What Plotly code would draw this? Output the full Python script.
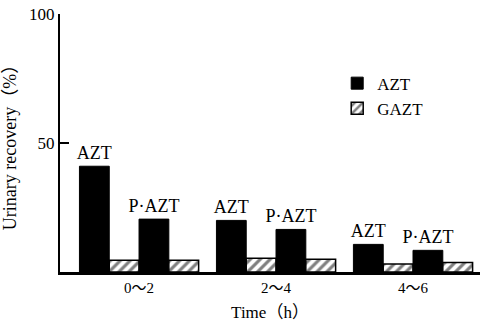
import plotly.graph_objects as go

groups = ["0～2", "2～4", "4～6"]
azt = [41, 20, 10.7]
gazt_after_azt = [4.6, 5.3, 3.1]
p_azt = [20.5, 16.5, 8.4]
gazt_after_pazt = [4.6, 4.9, 3.7]
yticks = [50, 100]

FONT = "Liberation Serif, Noto Sans CJK SC, serif"
xs = list(range(len(groups)))

hatch = dict(color="white", line=dict(color="black", width=1.5),
             pattern=dict(shape="/", fgcolor="black", bgcolor="white", size=7, solidity=0.45))
label_font = dict(family=FONT, size=18, color="black")

fig = go.Figure()
fig.add_trace(go.Bar(x=xs, y=azt, name="AZT", marker=dict(color="black", line=dict(color="black", width=1)),
                     text=["AZT"] * 3, textposition="outside", cliponaxis=False, constraintext="none",
                     textfont=label_font))
fig.add_trace(go.Bar(x=xs, y=gazt_after_azt, name="GAZT", marker=hatch))
fig.add_trace(go.Bar(x=xs, y=p_azt, name="P·AZT", showlegend=False,
                     marker=dict(color="black", line=dict(color="black", width=1)),
                     text=["P·AZT"] * 3, textposition="outside", cliponaxis=False, constraintext="none",
                     textfont=label_font))
fig.add_trace(go.Bar(x=xs, y=gazt_after_pazt, name="GAZT", showlegend=False, marker=hatch))

fig.update_layout(
    width=485, height=325,
    margin=dict(l=60, r=5, t=14, b=53, autoexpand=False),
    paper_bgcolor="white", plot_bgcolor="white",
    barmode="group", bargap=0.13, bargroupgap=0,
    font=dict(family=FONT, color="black", size=15),
    showlegend=True,
    legend=dict(x=0.66, y=0.80, xanchor="left", yanchor="top", bgcolor="rgba(0,0,0,0)",
                font=dict(family=FONT, size=17), tracegroupgap=0, itemwidth=30),
    xaxis=dict(range=[-0.577, 2.489], tickvals=xs, ticktext=groups, showline=True, linecolor="black",
               linewidth=3, ticks="", showgrid=False, zeroline=False, automargin=False,
               tickfont=dict(family=FONT, size=15),
               title=dict(text="Time（h）", font=dict(family=FONT, size=17), standoff=12)),
    yaxis=dict(range=[0, 100], tickvals=yticks, showline=True, linecolor="black", linewidth=2,
               ticks="inside", ticklen=9, tickwidth=2, tickcolor="black", showgrid=False, zeroline=False,
               automargin=False, ticklabeloverflow="allow", tickfont=dict(family=FONT, size=17),
               title=dict(text="Urinary recovery（%）", font=dict(family=FONT, size=18), standoff=8)),
)

fig.write_html("out.html", config={"displayModeBar": False},
               post_script="document.body.style.margin='0';")
